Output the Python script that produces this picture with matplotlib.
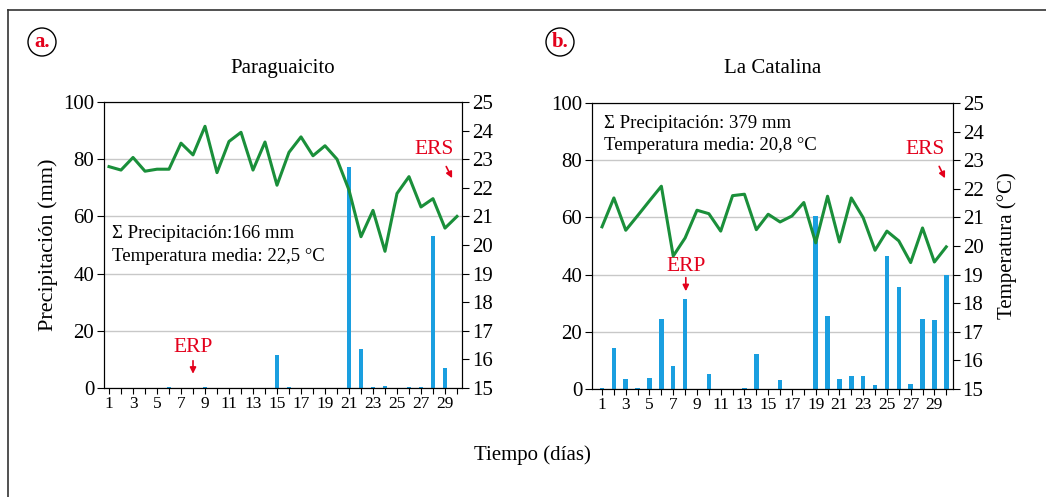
import matplotlib.pyplot as plt
import numpy as np
from matplotlib.patches import Ellipse

plt.rcParams['font.family'] = ['Liberation Serif', 'DejaVu Serif']

days = np.arange(1, 31)

# Paraguaicito
prec_a = [0, 0, 0, 0, 0, 0.2, 0, 0, 0.2, 0, 0, 0, 0, 0, 11.5,
          0.2, 0, 0, 0, 0, 77.2, 13.5, 0.2, 0.6, 0, 0.2, 0.2, 53.2, 7.0, 0]
temp_a = [22.74, 22.62, 23.06, 22.58, 22.65, 22.65, 23.56, 23.15, 24.15, 22.53,
          23.62, 23.94, 22.62, 23.60, 22.09, 23.24, 23.78, 23.12, 23.47, 23.00,
          21.92, 20.29, 21.21, 19.78, 21.80, 22.39, 21.33, 21.62, 20.59, 21.00]

# La Catalina
prec_b = [0.5, 14.5, 3.6, 0.4, 3.8, 24.3, 7.9, 31.3, 0, 5.4,
          0, 0, 0.4, 12.4, 0, 3.3, 0, 0, 60.4, 25.4,
          3.6, 4.4, 4.7, 1.3, 46.4, 35.5, 1.6, 24.3, 24.0, 39.8]
temp_b = [20.67, 21.68, 20.55, 21.06, 21.58, 22.09, 19.65, 20.28, 21.25, 21.13,
          20.52, 21.76, 21.81, 20.57, 21.11, 20.84, 21.05, 21.52, 20.11, 21.74,
          20.14, 21.68, 20.99, 19.85, 20.52, 20.18, 19.42, 20.63, 19.44, 19.97]

titles = ['Paraguaicito', 'La Catalina']
notes = [['Σ Precipitación:166 mm', 'Temperatura media: 22,5 °C'],
         ['Σ Precipitación: 379 mm', 'Temperatura media: 20,8 °C']]

blue = '#1a9fe0'
green = '#1a8f3a'
red = '#e3001b'

fig = plt.figure(figsize=(10.46, 4.97), dpi=100)

# outer frame (only top and left visible)
fig.add_artist(plt.Line2D([8/1046, 8/1046], [0, 1 - 10/497], color='#333333', lw=1.2))
fig.add_artist(plt.Line2D([8/1046, 1], [1 - 10/497, 1 - 10/497], color='#333333', lw=1.2))

pos = [[0.0994, 0.2193, 0.3423, 0.5755], [0.566, 0.2173, 0.345, 0.5755]]
xlims = [(0.58, 30.42), (0.16, 30.56)]
note_xy = [[(0.022, 0.54), (0.022, 0.46)], [(0.033, 0.93), (0.033, 0.853)]]
erp = [(8, 14, 10.5, 4), (8.06, 42.8, 39.9, 33.2)]
ers = [(28.07, 83.5, 29.0, 78.3, 29.7, 72.5), (28.2, 83.8, 29.3, 78.7, 30.0, 72.8)]

for i, (prec, temp) in enumerate([(prec_a, temp_a), (prec_b, temp_b)]):
    ax = fig.add_axes(pos[i])
    ax.bar(days, prec, width=0.38, color=blue, zorder=2)
    ax.set_ylim(0, 100)
    ax.set_xlim(*xlims[i])
    ax.set_yticks([0, 20, 40, 60, 80, 100])
    ax.set_xticks(days)
    ax.set_xticklabels([str(d) if d % 2 == 1 else '' for d in days])
    ax.yaxis.grid(True, color='#c8c8c8', lw=1)
    ax.set_axisbelow(True)
    ax.tick_params(axis='y', labelsize=15, length=5, pad=2)
    ax.tick_params(axis='x', labelsize=12.5, length=4, pad=2)

    ax2 = ax.twinx()
    ax2.plot(days, temp, color=green, lw=2.2)
    ax2.set_ylim(15, 25)
    ax2.set_yticks(range(15, 26))
    ax2.tick_params(axis='y', labelsize=15, length=5, pad=2)

    for (tx, ty), s in zip(note_xy[i], notes[i]):
        ax.text(tx, ty, s, transform=ax.transAxes, fontsize=13.5, va='center', ha='left')

    x, ty, y0, y1 = erp[i]
    ax.text(x, ty, 'ERP', color=red, fontsize=15.5, ha='center', va='center')
    ax.annotate('', xy=(x, y1), xytext=(x, y0),
                arrowprops=dict(arrowstyle='-|>', color=red, lw=1.2, mutation_scale=9))
    x, ty, xa, ya, xb, yb = ers[i]
    ax.text(x, ty, 'ERS', color=red, fontsize=15.5, ha='center', va='center')
    ax.annotate('', xy=(xb, yb), xytext=(xa, ya),
                arrowprops=dict(arrowstyle='-|>', color=red, lw=1.2, mutation_scale=9))

    fig.text(pos[i][0] + pos[i][2] * 0.5, 0.863, titles[i], fontsize=15, ha='center', va='center')

    if i == 0:
        ax.set_ylabel('Precipitación (mm)', fontsize=16, labelpad=4)
    else:
        ax2.set_ylabel('Temperatura (°C)', fontsize=15, labelpad=10)

# panel letters in circles
for lx, s in [(42/1046, 'a.'), (560/1046, 'b.')]:
    fig.add_artist(Ellipse((lx, 1 - 42/497), 28/1046, 28/497, transform=fig.transFigure,
                           fill=False, edgecolor='black', lw=1))
    fig.text(lx, 1 - 42/497, s, color=red, fontsize=15, fontweight='bold', ha='center', va='center')

fig.text(0.5086, 0.0845, 'Tiempo (días)', fontsize=15, ha='center', va='center')

fig.savefig('out.png', dpi=100)
